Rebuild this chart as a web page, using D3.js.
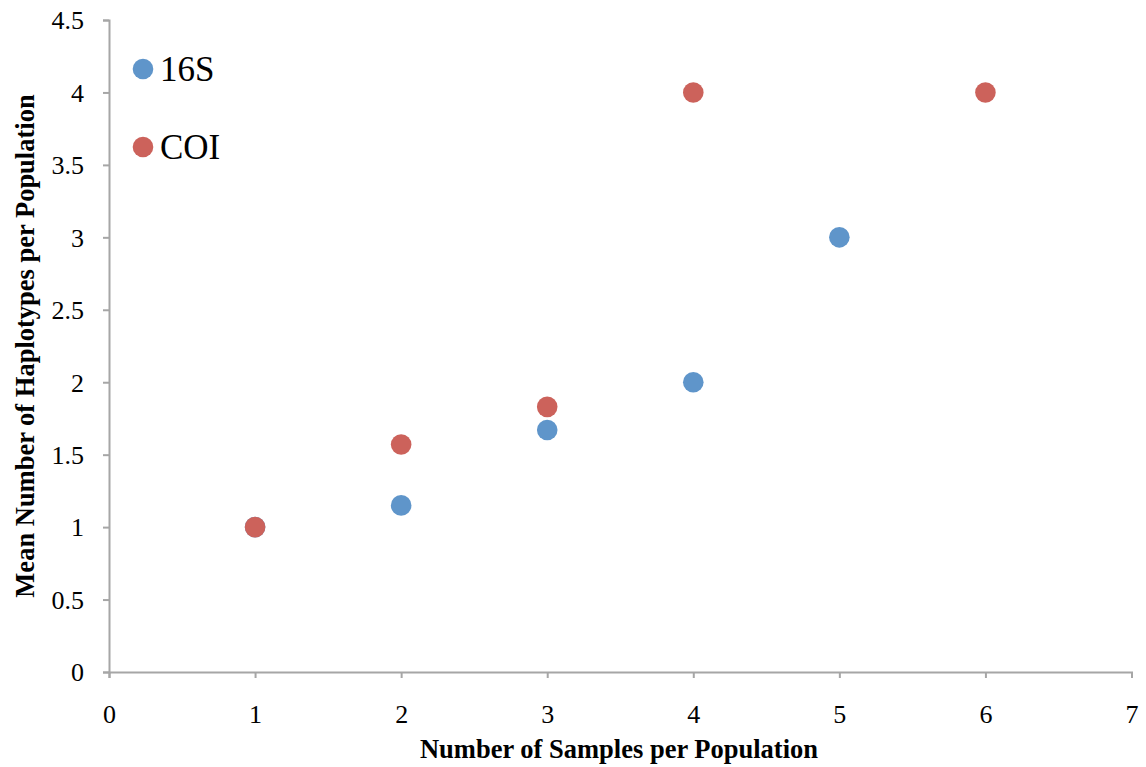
<!DOCTYPE html>
<html><head><meta charset="utf-8">
<script src="https://cdn.jsdelivr.net/npm/d3@7"></script>
<style>body{margin:0;background:#fff}svg{display:block}text{font-family:"Liberation Serif","Times New Roman",serif;fill:#000}</style>
</head><body><div id="chart"></div>
<script>
const xTicks = [0,1,2,3,4,5,6,7];
const yTicks = [0,0.5,1,1.5,2,2.5,3,3.5,4,4.5];
const seriesNames = ["16S","COI"];
const x16S = [1,2,3,4,5];
const y16S = [1,1.15,1.67,2,3];
const xCOI = [1,2,3,4,6];
const yCOI = [1,1.57,1.83,4,4];
const colors = ["#5F95CA","#CC625B"];

const W=1146,H=767;
const svg=d3.select("#chart").append("svg").attr("width",W).attr("height",H)
  .attr("font-family","Liberation Serif");
const x=d3.scaleLinear().domain([0,7]).range([109,1131.5]);
const y=d3.scaleLinear().domain([0,4.5]).range([672,20]);

const gx=svg.append("g").attr("transform","translate(0,672)")
  .call(d3.axisBottom(x).tickValues(xTicks).tickSize(6).tickPadding(16).tickFormat(d3.format("d")));
const gy=svg.append("g").attr("transform","translate(109,0)")
  .call(d3.axisLeft(y).tickValues(yTicks).tickSize(6).tickPadding(19).tickFormat(d=>String(d)));
[gx,gy].forEach(g=>{
  g.attr("font-family","Liberation Serif").attr("font-size",26);
  g.select(".domain").attr("stroke","#A6A6A6").attr("stroke-width",2);
  g.selectAll(".tick line").attr("stroke","#A6A6A6").attr("stroke-width",2);
  g.selectAll(".tick text").attr("font-family","Liberation Serif").attr("font-size",26).attr("fill","#000");
});
gx.selectAll(".tick text").attr("dy",null).attr("y",51);
gy.selectAll(".tick text").attr("dy","0.34em");

const data=[x16S.map((v,i)=>({x:v,y:y16S[i],s:0})), xCOI.map((v,i)=>({x:v,y:yCOI[i],s:1}))];
data.forEach((arr,si)=>{
  svg.append("g").selectAll("circle").data(arr).enter().append("circle")
    .attr("cx",d=>x(d.x)).attr("cy",d=>y(d.y)).attr("r",10.3).attr("fill",colors[si]);
});

svg.append("text").attr("x",619).attr("y",758).attr("text-anchor","middle")
  .style("font-weight","bold").style("font-size","26.5px").text("Number of Samples per Population");
svg.append("text").attr("transform","translate(34,346) rotate(-90)").attr("text-anchor","middle")
  .style("font-weight","bold").style("font-size","26.5px").text("Mean Number of Haplotypes per Population");

const leg=svg.append("g");
seriesNames.forEach((n,i)=>{
  const cy=69+i*78;
  leg.append("circle").attr("cx",143).attr("cy",cy).attr("r",10.3).attr("fill",colors[i]);
  leg.append("text").attr("x",160).attr("y",cy+12).style("font-size","35px").text(n);
});
</script></body></html>
